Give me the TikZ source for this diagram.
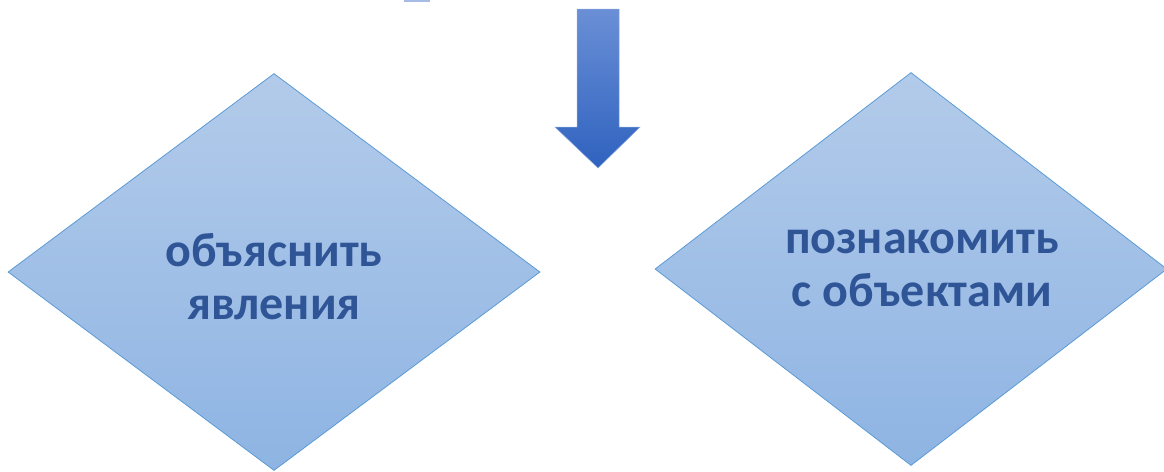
\documentclass[tikz,border=0pt]{standalone}
\usepackage{fontspec}
\setmainfont{Carlito}
\usetikzlibrary{shapes.geometric}
\definecolor{dtop}{HTML}{B3CBEA}
\definecolor{dbot}{HTML}{8EB4E3}
\definecolor{dedge}{HTML}{5B9BD5}
\definecolor{dtext}{HTML}{2F5597}
\definecolor{atop}{HTML}{6A8FD6}
\definecolor{abot}{HTML}{2F62BF}
\tikzset{
  dia/.style={diamond, draw=dedge, line width=0.8pt, top color=dtop, bottom color=dbot, inner sep=0pt, shape aspect=1},
  lbl/.style={text=dtext, font=\bfseries\fontsize{48}{53}\selectfont, align=center, inner sep=0pt},
  arr/.style={top color=atop, bottom color=abot, draw=atop!80!white, line width=0.5pt}
}
\begin{document}
\begin{tikzpicture}[x=1pt,y=-1pt]
\useasboundingbox (0,0) rectangle (1164,471);
% thin strip at top edge
\fill[color=atop!60!white] (404,0) rectangle (430,1.5);
% arrow
\path[arr] (577,9) -- (619,9) -- (619,127) -- (640,127) -- (598,168) -- (555,127) -- (577,127) -- cycle;
% diamonds
\node[dia, minimum width=532pt, minimum height=397pt] (d1) at (274,272) {};
\node[dia, minimum width=512pt, minimum height=393pt] (d2) at (911,269) {};
% labels
\node[lbl] (t1) at (274,277) {объяснить\\явления};
\node[lbl] (t2) at (922,268) {познакомить\\с объектами};
\end{tikzpicture}
\end{document}
